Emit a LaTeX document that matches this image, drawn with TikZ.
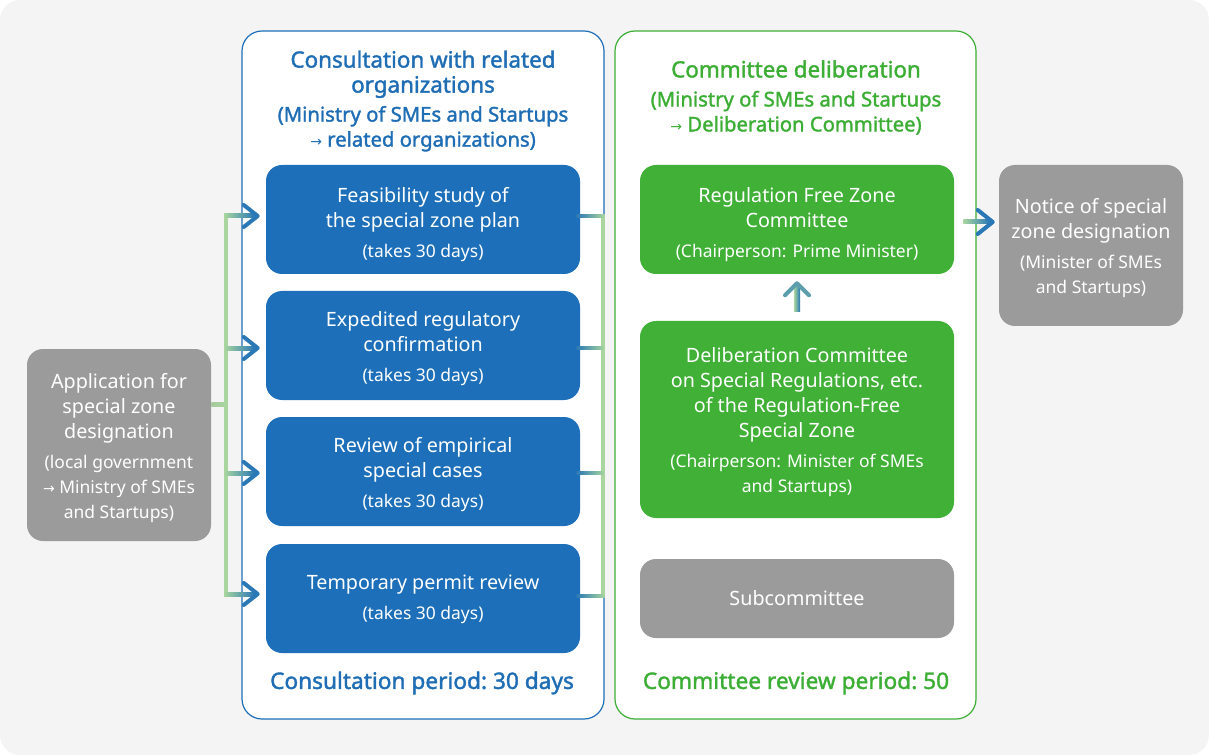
\documentclass[tikz,border=0pt]{standalone}
\usepackage{fontspec}
\setmainfont{Noto Sans}
\newfontfamily\boldnoto{Noto Sans}[FakeBold=1.6]
\newfontfamily\arrfont{DejaVu Sans}
\usetikzlibrary{calc}
\definecolor{bgc}{HTML}{F4F4F4}
\definecolor{bluebox}{HTML}{1C6FB8}
\definecolor{bluetxt}{HTML}{1F6DB5}
\definecolor{greenbox}{HTML}{40B036}
\definecolor{greentxt}{HTML}{3DAE35}
\definecolor{graybox}{HTML}{9B9B9B}
\definecolor{agreen}{HTML}{A8D69E}
\definecolor{ablue}{HTML}{2A78B6}
\newcommand\bigt{\fontsize{14.8}{18.75}\selectfont}
\newcommand\smallt{\fontsize{13.1}{18.75}\selectfont}
\newcommand\titlet{\boldnoto\fontsize{16.8}{18.75}\selectfont}
\newcommand\subt{\boldnoto\fontsize{15.2}{18.75}\selectfont}
\newcommand\labt{\boldnoto\fontsize{17}{18.75}\selectfont}
\newcommand\ar{{\arrfont\fontsize{10.5}{10}\selectfont →}}
\begin{document}
\begin{tikzpicture}[x=0.75pt,y=-0.75pt,
  box/.style={rounded corners=12pt, minimum width=235.5pt, minimum height=81.75pt, inner sep=0pt},
  bbox/.style={box, fill=bluebox},
  gbox/.style={box, fill=greenbox},
  graynode/.style={box, fill=graybox},
  boxtext/.style={text=white, align=center, font=\bigt, inner sep=0pt},
  panel/.style={rounded corners=15pt, fill=white, line width=0.9pt, minimum height=516pt, inner sep=0pt},
  chev/.style={ablue, line width=3pt, line cap=round, line join=round},
  trunk/.style={agreen, line width=3pt}
]
\useasboundingbox (0,0) rectangle (1209,755);
\fill[bgc, rounded corners=15pt] (0,0) rectangle (1209,755);

% panels
\node[panel, draw=bluebox, minimum width=271.5pt] (pb) at (423,375) {};
\node[panel, draw=greentxt, minimum width=270.75pt] (pg) at (795.5,375) {};

% titles
\node[text=bluetxt, align=center, font=\titlet] (tb) at (423,101)
  {Consultation with related\\organizations\\[3pt]{\subt (Ministry of SMEs and Startups}\\{\subt \ar{} related organizations)}};
\node[text=greentxt, align=center, font=\titlet] (tg) at (796,97.5)
  {Committee deliberation\\[3pt]{\subt (Ministry of SMEs and Startups}\\{\subt \ar{} Deliberation Committee)}};

\node[text=bluetxt, font=\labt] (lb) at (422,683) {Consultation period:\ 30 days};
\node[text=greentxt, font=\labt] (lg) at (796,683) {Committee review period:\ 50};

% blue boxes
\node[bbox] (b1) at (423,219.5) {};
\node[bbox] (b2) at (423,345.5) {};
\node[bbox] (b3) at (423,471.5) {};
\node[bbox] (b4) at (423,598.5) {};
\node[boxtext] (b1t) at ($(b1)+(0,5)$) {Feasibility study of\\the special zone plan\\[3.75pt]{\smallt (takes 30 days)}};
\node[boxtext] (b2t) at ($(b2)+(0,3)$) {Expedited regulatory\\confirmation\\[3.75pt]{\smallt (takes 30 days)}};
\node[boxtext] (b3t) at ($(b3)+(0,3)$) {Review of empirical\\special cases\\[3.75pt]{\smallt (takes 30 days)}};
\node[boxtext] (b4t) at ($(b4)+(0,1)$) {Temporary permit review\\[3.75pt]{\smallt (takes 30 days)}};

% green boxes
\node[gbox] (g1) at (797,219.5) {};
\node[gbox, minimum height=147.75pt] (g2) at (797,419.5) {};
\node[graynode, minimum height=59.25pt] (sc) at (797,598.5) {};
\node[boxtext] (g1t) at ($(g1)+(0,5)$) {Regulation Free Zone\\Committee\\[3.75pt]{\smallt (Chairperson: Prime Minister)}};
\node[boxtext] (g2t) at ($(g2)+(0,3)$) {Deliberation Committee\\on Special Regulations, etc.\\of the Regulation-Free\\Special Zone\\[3.75pt]{\smallt (Chairperson: Minister of SMEs}\\{\smallt and Startups)}};
\node[boxtext] (sct) at (sc) {Subcommittee};

% side boxes
\node[graynode, minimum width=138pt, minimum height=144pt] (app) at (119,445) {};
\node[graynode, minimum width=138pt, minimum height=120.75pt] (nt) at (1091,245.5) {};
\node[boxtext] (appt) at ($(app)+(0,3)$)
  {Application for\\special zone\\designation\\[3.75pt]{\smallt (local government}\\{\smallt \ar{} Ministry of SMEs}\\{\smallt and Startups)}};
\node[boxtext] (ntt) at ($(nt)+(0,3)$)
  {Notice of special\\zone designation\\[3.75pt]{\smallt (Minister of SMEs}\\{\smallt and Startups)}};

% left connectors
\coordinate (tA) at (226,216);
\coordinate (tD) at (226,594);
\coordinate (tM) at (226,404);
\shade[left color=agreen!80!graybox, right color=agreen] ($(app.east |- tM)+(0,-2)$) rectangle ($(tM)+(0,2)$);
\draw[trunk] (tA) -- (tD);
\foreach \b/\yy in {b1/216,b2/348,b3/473,b4/594}{
  \coordinate (s) at (226,\yy);
  \coordinate (e) at ($(\b.west |- s)+(-8,0)$);
  \shade[left color=agreen, right color=ablue] ($(s)+(-2,-2)$) rectangle ($(e)+(-3,2)$);
  \draw[chev] ($(e)+(-14,-11)$) -- (e) -- ($(e)+(-14,11)$);
}

% right bracket
\coordinate (rA) at (603,216);
\coordinate (rD) at (603,596);
\draw[agreen, line width=2.4pt] (rA) -- (rD);
\foreach \b/\yy in {b1/216,b2/348,b3/473,b4/596}{
  \coordinate (s) at (603,\yy);
  \shade[left color=ablue, right color=agreen] ($(\b.east |- s)+(-4,-1.6)$) rectangle ($(s)+(1.6,1.6)$);
}

% right arrow
\coordinate (ra1) at ($(g1.east)+(9,2.5)$);
\coordinate (ra2) at ($(nt.west |- ra1)+(-6,0)$);
\shade[left color=agreen, right color=ablue] ($(ra1)+(0,-2)$) rectangle ($(ra2)+(-3,2)$);
\draw[chev] ($(ra2)+(-15,-12)$) -- (ra2) -- ($(ra2)+(-15,12)$);

% up arrow
\coordinate (ua1) at ($(g2.north)+(0,-9)$);
\coordinate (ua2) at ($(g1.south)+(0,9)$);
\shade[left color=agreen, right color=ablue] ($(ua1)+(-3,0)$) rectangle ($(ua2)+(3,3)$);
\draw[chev, color=ablue!60!agreen] ($(ua2)+(-12,12)$) -- (ua2) -- ($(ua2)+(12,12)$);
\end{tikzpicture}
\end{document}
